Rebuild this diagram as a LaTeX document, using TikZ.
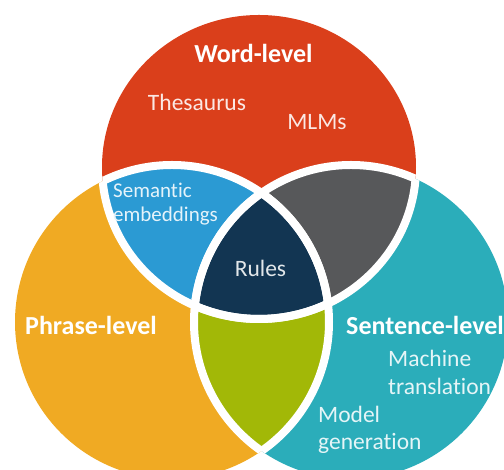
\documentclass[tikz,border=0pt]{standalone}
\usepackage{fontspec}
\setmainfont{Carlito}[Ligatures={NoCommon}]
\definecolor{cred}{HTML}{DA3F1B}
\definecolor{corange}{HTML}{F0AA23}
\definecolor{cteal}{HTML}{2BADBA}
\definecolor{cblue}{HTML}{2B9AD3}
\definecolor{cgray}{HTML}{57585A}
\definecolor{cnavy}{HTML}{123552}
\definecolor{cgreen}{HTML}{A2B807}
\begin{document}
\begin{tikzpicture}[x=1pt,y=1pt,
  title/.style={inner sep=0pt, text=white, font=\fontsize{26}{30}\selectfont\bfseries},
  label/.style={inner sep=0pt, font=\fontsize{23.5}{28}\selectfont},
  smalllabel/.style={inner sep=0pt, font=\fontsize{21}{24}\selectfont},
  border/.style={draw=white, line width=8pt}]
\useasboundingbox (0,0) rectangle (504,470);
\clip (0,0) rectangle (504,470);
\coordinate (R) at (259,303);
\coordinate (L) at (172,148);
\coordinate (S) at (351,148);
\def\redshape{(R) ellipse[x radius=157pt, y radius=152pt]}
\def\leftshape{(L) circle[radius=157pt]}
\def\rightshape{(S) circle[radius=157pt]}
% full shapes
\fill[cred] \redshape;
\fill[corange] \leftshape;
\fill[cteal] \rightshape;
% pairwise overlaps
\begin{scope}
  \clip \redshape;
  \fill[cblue] \leftshape;
  \fill[cgray] \rightshape;
\end{scope}
\begin{scope}
  \clip \leftshape;
  \fill[cgreen] \rightshape;
\end{scope}
\begin{scope}
  \clip \redshape;
  \clip \leftshape;
  \fill[cnavy] \rightshape;
\end{scope}
% white borders, only where regions meet
\begin{scope}
  \clip \redshape;
  \draw[border] \leftshape;
  \draw[border] \rightshape;
\end{scope}
\begin{scope}
  \clip \leftshape;
  \draw[border] \redshape;
  \draw[border] \rightshape;
\end{scope}
\begin{scope}
  \clip \rightshape;
  \draw[border] \redshape;
  \draw[border] \leftshape;
\end{scope}
% labels
\node[title, anchor=base] (word) at (253.5,407) {Word-level};
\node[label, anchor=base, text=white!88!cred] (thes) at (197,359) {Thesaurus};
\node[label, anchor=base, text=white!88!cred] (mlm) at (317,340) {MLMs};
\node[smalllabel, anchor=base west, text=white!88!cblue] (sem1) at (113,272) {Semantic};
\node[smalllabel, anchor=base west, text=white!88!cblue] (sem2) at (113,248) {embeddings};
\node[label, anchor=base, text=white!88!cnavy] (rules) at (260.5,193) {Rules};
\node[title, anchor=base west] (phrase) at (25,135) {Phrase-level};
\node[title, anchor=base west] (sent) at (346,135) {Sentence-level};
\node[label, anchor=base west, text=white!88!cteal] (mt1) at (388,103) {Machine};
\node[label, anchor=base west, text=white!88!cteal] (mt2) at (388,75) {translation};
\node[label, anchor=base west, text=white!88!cteal] (mg1) at (318,47) {Model};
\node[label, anchor=base west, text=white!88!cteal] (mg2) at (318,20) {generation};
\end{tikzpicture}
\end{document}
